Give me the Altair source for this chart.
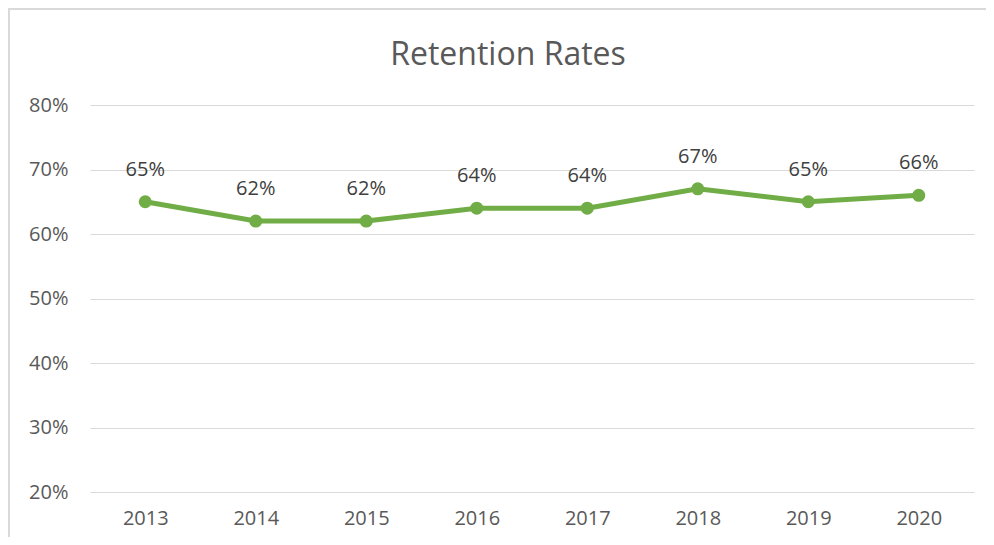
import altair as alt
import pandas as pd

years = ["2013", "2014", "2015", "2016", "2017", "2018", "2019", "2020"]
rates = [0.65, 0.62, 0.62, 0.64, 0.64, 0.67, 0.65, 0.66]
labels = ["65%", "62%", "62%", "64%", "64%", "67%", "65%", "66%"]
y_ticks = [0.2, 0.3, 0.4, 0.5, 0.6, 0.7, 0.8]
title_text = ["Retention Rates"]

df = pd.DataFrame({"year": years, "rate": rates, "label": labels})
tdf = pd.DataFrame({"t": title_text})

W, H = 884, 387
PL, PT, PR, PB = 82, 97, 12, 45
FONT = "Open Sans"

x = alt.X("year:O", sort=years, title=None,
          scale=alt.Scale(type="point", padding=0.5),
          axis=alt.Axis(labelAngle=0, labelFontSize=20, labelColor="#595959",
                        labelFont=FONT, ticks=False, domain=False, labelPadding=16,
                        grid=False))
y = alt.Y("rate:Q", title=None,
          scale=alt.Scale(domain=[0.2, 0.8], nice=False, zero=False),
          axis=alt.Axis(values=y_ticks, format=".0%", labelFontSize=20,
                        labelColor="#595959", labelFont=FONT, ticks=False,
                        domain=False, labelPadding=22, gridColor="#d9d9d9",
                        gridWidth=1.2))

base = alt.Chart(df)

border = base.mark_rect(fill=None, stroke="#d9d9d9", strokeWidth=1.5, clip=False).encode(
    x=alt.value(-PL + 1), x2=alt.value(W + PR + 20),
    y=alt.value(-PT + 1), y2=alt.value(H + PB + 20)
)

title = alt.Chart(tdf).mark_text(fontSize=32, font=FONT, color="#595959",
                                 baseline="middle", align="center").encode(
    x=alt.value(418), y=alt.value(-50), text="t:N")

line = base.mark_line(color="#70AD47", strokeWidth=5).encode(x=x, y=y)
pts = base.mark_circle(color="#70AD47", size=170, opacity=1).encode(x=x, y=y)
txt = base.mark_text(dy=-32, fontSize=20, color="#404040", font=FONT).encode(
    x=x, y=y, text="label:N")

chart = alt.layer(border, title, line, pts, txt).properties(
    width=W, height=H,
    background="white",
    autosize=alt.AutoSizeParams(type="none"),
    padding={"left": PL, "top": PT, "right": PR, "bottom": PB},
).configure_view(stroke="transparent", strokeWidth=0)

chart.save("out.html", embed_options={"renderer": "svg", "actions": False})
